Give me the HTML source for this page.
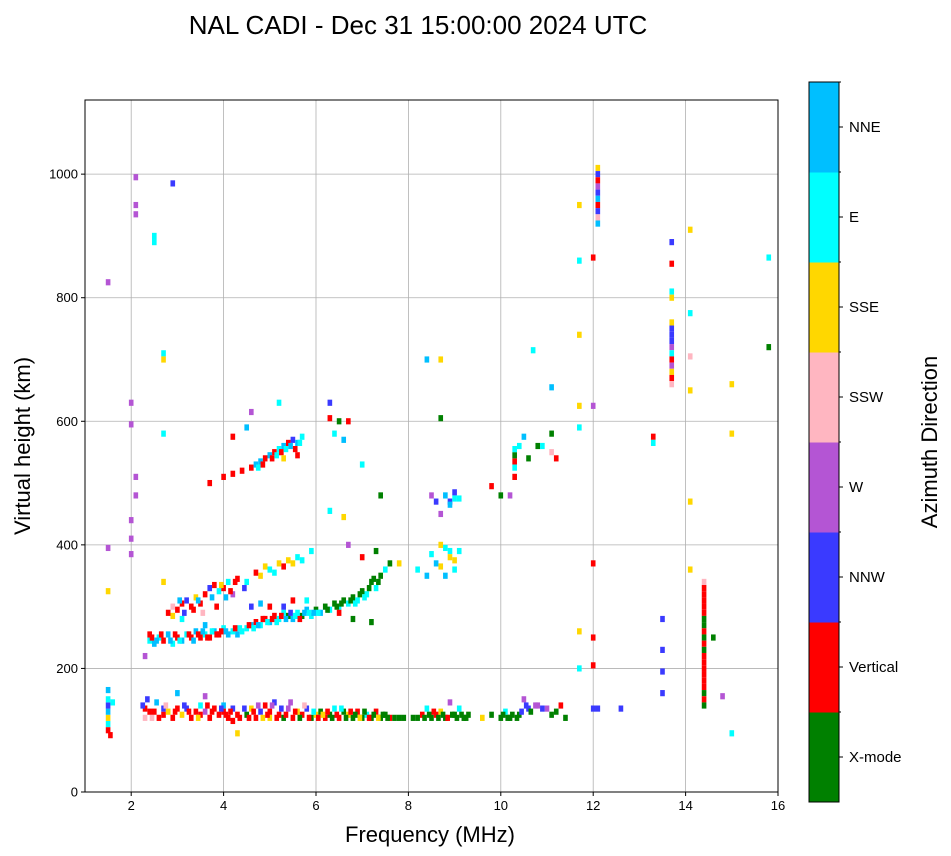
<!DOCTYPE html>
<html><head><meta charset="utf-8"><style>
body{margin:0;background:#fff;}
svg{display:block;font-family:"Liberation Sans","DejaVu Sans",sans-serif;}
</style></head><body>
<svg id="chart" width="951" height="856">
<text x="418" y="34" font-size="26" text-anchor="middle">NAL CADI - Dec 31 15:00:00 2024 UTC</text>
<g id="grid"></g>
<g id="marks"></g>
<rect x="85" y="100" width="693" height="692" fill="none" stroke="#000" stroke-width="1"/>
<g id="axes"></g>
<text x="430" y="842" font-size="22" text-anchor="middle">Frequency (MHz)</text>
<text transform="translate(30,446) rotate(-90)" font-size="22" text-anchor="middle">Virtual height (km)</text>
<g id="cbar"></g>
<text transform="translate(937,442) rotate(-90)" font-size="22" text-anchor="middle">Azimuth Direction</text>
</svg>
<script>
const categories=["X-mode","Vertical","NNW","W","SSW","SSE","E","NNE"];
const catColors=["#008000","#ff0000","#3a3aff","#b455d4","#ffb6c1","#ffd700","#00ffff","#00bfff"];
const xTicks=[2,4,6,8,10,12,14,16];
const yTicks=[0,200,400,600,800,1000];
const echoes=[
[1.5,100,1],[1.5,110,6],[1.5,120,5],[1.5,130,7],[1.5,140,2],[1.5,150,6],[1.5,165,7],[1.55,92,1],[1.6,145,6],
[2.3,120,4],[2.3,135,1],[2.35,150,2],[2.45,120,4],[2.5,130,1],[2.55,145,7],[2.7,125,1],[2.7,135,2],[2.8,130,5],[2.9,120,1],[3.0,135,1],[3.0,160,7],[3.1,125,5],[3.2,135,2],[3.3,120,1],[3.4,130,1],[3.5,140,6],[3.5,125,1],[3.6,130,3],[3.6,155,3],[3.7,120,1],[3.8,135,1],[3.9,125,1],[4.0,140,7],[4.0,130,1],[4.1,120,1],[4.2,135,2],[4.2,115,1],[4.3,125,1],[4.3,95,5],[4.5,125,0],[4.6,135,5],[4.7,120,1],[4.8,130,2],[4.9,140,1],[5.0,120,5],[5.0,130,1],[5.1,145,2],[5.2,125,1],[5.3,120,0],[5.4,135,3],[5.5,120,1],[5.6,130,5],[5.7,125,1],[5.8,135,2],[5.9,120,0],[6.0,125,5],[6.1,130,0],[6.2,120,1],[6.3,125,0],[6.4,135,6],[6.5,120,1],[6.6,130,0],[6.7,125,5],[6.8,120,0],[6.9,130,1],[7.0,120,0],[7.1,125,6],[7.2,120,0],[7.3,130,1],[7.4,120,0],[7.5,125,0],[7.6,120,1],[7.8,120,0],[8.1,120,0],[8.3,125,1],[8.4,135,6],[8.5,120,0],[8.6,125,1],[8.7,130,5],[8.8,120,0],[8.9,145,3],[9.0,125,0],[9.1,135,6],[9.2,120,0],[9.3,125,0],[9.6,120,5],[9.8,125,0],[10.0,120,0],[10.1,130,6],[10.2,120,0],[10.4,125,0],[10.5,150,3],[10.6,135,2],[10.8,140,3],[11.0,135,3],[11.2,130,0],[11.3,140,1],[11.4,120,0],[12.0,135,2],[12.1,135,2],[12.6,135,2],[15.0,95,6],[14.8,155,3],
[2.25,140,2],[2.4,130,1],[2.6,120,1],[2.75,140,4],[2.95,130,1],[3.15,140,2],[3.25,130,1],[3.45,120,5],[3.65,140,1],[3.75,130,1],[3.95,135,2],[4.05,125,1],[4.15,130,1],[4.35,120,1],[4.45,135,2],[4.55,120,1],[4.65,130,1],[4.75,140,3],[4.85,120,5],[4.95,125,1],[5.05,140,3],[5.15,120,1],[5.25,135,2],[5.35,125,1],[5.45,145,3],[5.55,130,1],[5.65,120,0],[5.75,140,4],[5.85,120,1],[5.95,130,6],[6.05,120,1],[6.15,125,5],[6.25,130,1],[6.35,120,0],[6.45,125,1],[6.55,135,6],[6.65,120,0],[6.75,130,1],[6.85,125,0],[6.95,120,5],[7.05,130,0],[7.15,120,1],[7.25,125,0],[7.35,120,5],[7.45,125,0],[7.55,120,0],[7.7,120,0],[7.9,120,0],[8.2,120,0],[8.35,120,0],[8.45,125,0],[8.55,130,1],[8.65,120,0],[8.75,125,0],[8.85,120,1],[8.95,125,0],[9.05,120,0],[9.15,125,0],[9.25,120,0],[10.05,125,0],[10.15,120,0],[10.25,125,0],[10.35,120,0],[10.45,130,2],[10.55,140,2],[10.65,130,0],[10.75,140,3],[10.9,135,2],[11.1,125,0],
[2.4,245,6],[2.4,255,1],[2.5,240,7],[2.6,250,6],[2.7,245,1],[2.8,255,7],[2.9,240,6],[3.0,250,1],[3.1,245,7],[3.2,255,6],[3.3,250,1],[3.4,260,7],[3.5,250,1],[3.6,255,6],[3.7,250,1],[3.8,260,7],[3.9,255,1],[4.0,265,6],[4.1,255,7],[4.2,260,6],[4.3,255,7],[4.4,260,6],[4.5,265,6],[4.6,270,7],[4.7,275,1],[4.8,270,6],[4.9,280,1],[5.0,275,7],[5.1,285,1],[5.2,280,6],[5.3,290,6],[5.4,285,0],[5.5,280,7],[5.6,290,6],[5.7,285,0],[5.8,295,7],[5.9,285,6],[6.0,295,0],[6.1,290,7],[6.2,300,0],[6.3,295,6],[6.4,305,0],[6.5,300,6],[6.6,310,0],[6.7,305,6],[6.8,315,0],[6.9,310,6],[7.0,325,0],[7.1,320,6],[7.2,340,0],[7.3,330,6],[7.4,350,0],[7.5,360,6],[7.6,370,0],[7.8,370,5],[6.8,280,0],[7.2,275,0],[6.5,290,1],
[2.45,250,1],[2.55,245,7],[2.65,255,1],[2.85,245,7],[2.95,255,1],[3.05,245,6],[3.25,255,1],[3.35,245,7],[3.45,255,1],[3.55,260,7],[3.65,250,1],[3.75,260,6],[3.85,255,1],[3.95,260,1],[4.05,260,7],[4.25,265,1],[4.35,265,6],[4.55,270,1],[4.65,265,6],[4.75,270,7],[4.85,280,1],[4.95,275,6],[5.05,280,1],[5.15,275,6],[5.25,285,1],[5.35,280,7],[5.45,290,2],[5.55,285,6],[5.65,280,1],[5.75,290,7],[5.85,290,6],[5.95,290,7],[6.05,290,6],[6.25,295,0],[6.45,300,0],[6.55,305,0],[6.75,310,0],[6.85,305,6],[6.95,320,0],[7.05,315,6],[7.15,330,0],[7.25,345,0],[7.35,340,0],
[2.8,290,1],[2.9,300,4],[3.0,295,1],[3.1,305,1],[3.2,310,2],[3.3,300,1],[3.4,315,5],[3.5,305,1],[3.6,320,1],[3.7,330,2],[3.8,335,1],[3.9,325,6],[4.0,330,1],[4.1,340,6],[4.2,320,3],[4.3,345,1],[4.5,340,6],[4.6,300,2],[4.8,350,5],[5.0,360,6],[5.2,370,5],[5.3,300,2],[5.4,375,5],[5.5,310,1],[5.6,380,6],[5.8,310,6],[5.9,390,6],[6.7,400,3],[7.0,380,1],[7.3,390,0],[3.1,280,6],[3.6,270,7],[2.3,220,3],[2.7,340,5],
[2.9,285,5],[3.05,310,7],[3.15,290,2],[3.35,295,1],[3.45,310,7],[3.55,290,4],[3.75,315,7],[3.85,300,1],[3.95,335,5],[4.05,315,7],[4.15,325,1],[4.25,340,1],[4.45,330,2],[4.7,355,1],[4.9,365,5],[5.1,355,6],[5.3,365,1],[5.5,370,5],[5.7,375,6],[5.0,300,1],[4.8,305,7],
[4.0,510,1],[4.2,515,1],[4.4,520,1],[4.6,525,1],[4.7,530,7],[4.8,535,7],[4.9,540,1],[5.0,545,7],[5.1,550,1],[5.2,555,6],[5.3,560,7],[5.4,565,1],[5.5,570,2],[5.6,565,7],[5.7,575,6],[4.5,590,7],[4.6,615,3],[5.2,630,6],[3.7,500,1],[4.2,575,1],
[4.75,525,6],[4.85,530,1],[5.05,540,1],[5.15,545,6],[5.25,550,1],[5.35,555,6],[5.45,560,7],[5.55,555,1],[5.65,565,6],[5.3,540,5],[5.6,545,1],
[6.3,605,1],[6.5,600,0],[6.7,600,1],[6.3,630,2],[6.3,455,6],[6.6,445,5],[7.4,480,0],[6.4,580,6],[6.6,570,7],[7.0,530,6],[8.5,480,3],[8.6,470,2],[8.7,450,3],[8.8,480,7],[8.9,470,2],[9.0,485,2],[9.1,475,6],[8.5,385,6],[8.6,370,7],[8.7,400,5],[8.9,390,6],[9.0,375,5],[8.2,360,6],[8.4,350,7],[8.4,700,7],[8.7,605,0],[8.7,700,5],[10.0,480,0],[10.2,480,3],[10.3,535,1],[10.4,560,6],[10.5,575,7],[10.6,540,0],[10.8,560,0],[10.9,560,6],[11.1,580,0],[11.1,550,4],[11.2,540,1],[10.7,715,6],[11.1,655,7],[9.8,495,1],
[8.8,395,6],[8.9,380,5],[9.0,360,6],[8.7,365,5],[8.8,350,7],[9.1,390,6],[8.9,465,7],[9.0,475,6],[10.3,525,6],[10.3,545,0],[10.3,510,1],[10.3,555,6],
[12.1,1010,5],[12.1,1000,2],[12.1,990,1],[12.1,980,3],[12.1,970,2],[12.1,960,7],[12.1,950,1],[12.1,940,2],[12.1,930,4],[12.1,920,7],[12.0,865,1],[12.0,625,3],[12.0,370,1],[12.0,250,1],[12.0,205,1],
[11.7,950,5],[11.7,860,6],[11.7,740,5],[11.7,625,5],[11.7,590,6],[11.7,260,5],[11.7,200,6],
[13.7,890,2],[13.7,855,1],[13.7,810,6],[13.7,800,5],[13.7,760,5],[13.7,750,2],[13.7,740,2],[13.7,730,2],[13.7,720,3],[13.7,710,6],[13.7,700,1],[13.7,690,3],[13.7,680,5],[13.7,670,1],[13.7,660,4],[13.5,280,2],[13.5,230,2],[13.5,195,2],[13.5,160,2],[13.3,575,1],[13.3,565,6],[14.1,910,5],[14.1,775,6],[14.1,705,4],[14.1,650,5],[14.1,470,5],[14.1,360,5],[15.0,660,5],[15.0,580,5],[15.8,865,6],[15.8,720,0],
[14.4,340,4],[14.4,330,1],[14.4,320,1],[14.4,310,1],[14.4,300,1],[14.4,290,1],[14.4,280,0],[14.4,270,0],[14.4,260,1],[14.4,250,0],[14.4,240,1],[14.4,230,0],[14.4,220,1],[14.4,210,1],[14.4,200,1],[14.4,190,1],[14.4,180,1],[14.4,170,1],[14.4,160,0],[14.4,150,1],[14.4,140,0],[14.6,250,0],
[1.5,825,3],[2.1,995,3],[2.1,950,3],[2.1,935,3],[2.0,630,3],[2.0,595,3],[2.1,510,3],[2.1,480,3],[2.0,440,3],[2.0,410,3],[2.0,385,3],[1.5,395,3],[1.5,325,5],[2.9,985,2],[2.5,900,6],[2.5,890,6],[2.7,710,6],[2.7,700,5],[2.7,580,6]
];
const NS="http://www.w3.org/2000/svg";
const X0=85,X1=778,Y0=792,Y1=100,FMIN=1,FMAX=16,HMIN=0,HMAX=1120;
function xs(f){return X0+(f-FMIN)/(FMAX-FMIN)*(X1-X0);}
function ys(h){return Y0-(h-HMIN)/(HMAX-HMIN)*(Y0-Y1);}
function mk(tag,attrs,parent){const e=document.createElementNS(NS,tag);for(const k in attrs)e.setAttribute(k,attrs[k]);parent.appendChild(e);return e;}
const grid=document.getElementById('grid'),axes=document.getElementById('axes'),marks=document.getElementById('marks'),cbar=document.getElementById('cbar');
xTicks.forEach(t=>{const x=xs(t);
 if(t<FMAX){const g=mk('line',{x1:x,x2:x,y1:Y1,y2:Y0,stroke:'#b0b0b0','stroke-width':0.8},grid);
 
 }
 const tk=mk('line',{x1:x,x2:x,y1:Y0,y2:Y0+4,stroke:'#000'},axes);
 
 
 const l=mk('text',{x:x,y:Y0+18,'font-size':13,'text-anchor':'middle'},axes);l.textContent=t;
 
 });
yTicks.forEach(t=>{const y=ys(t);
 if(t>0){const g=mk('line',{x1:X0,x2:X1,y1:y,y2:y,stroke:'#b0b0b0','stroke-width':0.8},grid);
 
 }
 const tk=mk('line',{x1:X0-4,x2:X0,y1:y,y2:y,stroke:'#000'},axes);
 
 
 const l=mk('text',{x:X0-7,y:y+4.5,'font-size':13,'text-anchor':'end'},axes);l.textContent=t;
 
 });
const W=0.1,H=10;
echoes.forEach(d=>{const x=xs(d[0]-W/2),y=ys(d[1]+H/2);
 const r=mk('rect',{x:x,y:y,width:xs(d[0]+W/2)-x,height:ys(d[1]-H/2)-y,fill:catColors[d[2]]},marks);
 
 });
const CX=809,CW=30,CT=82,CB=802,seg=(CB-CT)/categories.length;
categories.forEach((c,i)=>{const y=CB-(i+1)*seg;
 const r=mk('rect',{x:CX,y:y,width:CW,height:seg+0.5,fill:catColors[i]},cbar);
 
 
 const tk=mk('line',{x1:CX+CW,x2:CX+CW+4,y1:y+seg/2,y2:y+seg/2,stroke:'#000'},cbar);
 
 
 const mt=mk('line',{x1:CX+CW,x2:CX+CW+2,y1:y,y2:y,stroke:'#000'},cbar);
 
 
 const l=mk('text',{x:CX+CW+10,y:y+seg/2+5,'font-size':15},cbar);l.textContent=c;
 
 });
const fr=mk('rect',{x:CX,y:CT,width:CW,height:CB-CT,fill:'none',stroke:'#000'},cbar);


</script>
</body></html>
